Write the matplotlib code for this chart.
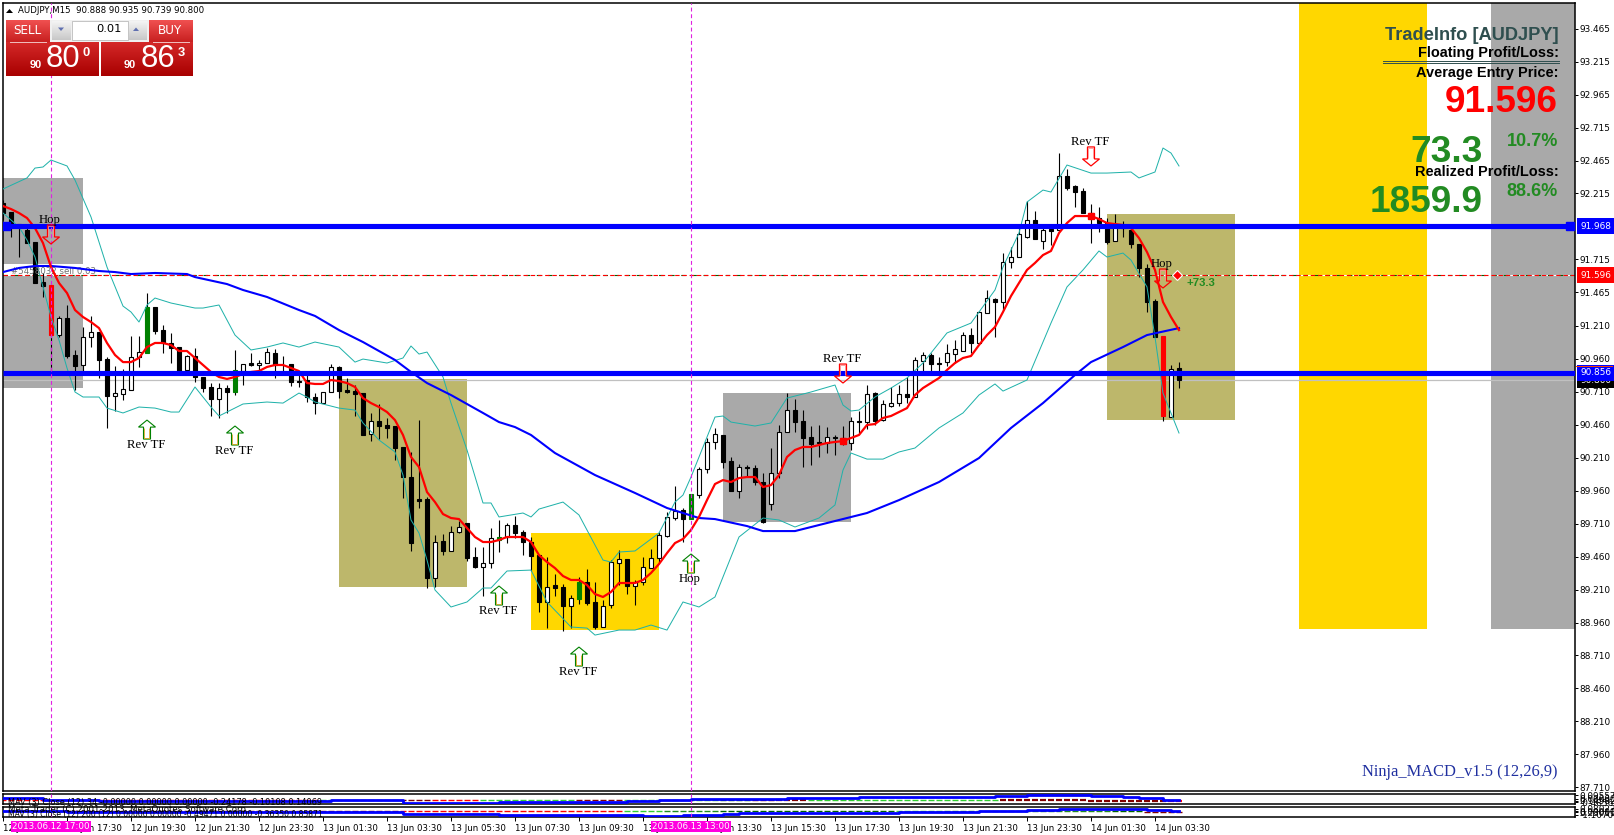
import numpy as np
import matplotlib.pyplot as plt
from matplotlib.patches import Rectangle, Polygon

W, H = 1614, 835

# AUDJPY M15 candles, one value per bar
opens = [92.143,92.075,91.983,91.938,91.847,91.544,91.521,91.141,91.270,90.990,90.914,91.126,91.164,90.959,90.679,90.694,90.724,90.974,91.005,91.354,
         91.179,91.081,91.050,90.876,90.982,90.823,90.747,90.656,90.739,90.709,90.868,90.929,90.914,90.929,91.005,90.861,90.921,90.792,90.800,90.671,
         90.625,90.709,90.899,90.724,90.716,90.701,90.390,90.489,90.459,90.451,90.292,90.064,89.897,89.897,89.298,89.578,89.503,89.647,89.715,89.457,
         89.381,89.411,89.586,89.609,89.700,89.647,89.571,89.472,89.116,89.245,89.229,89.085,89.138,89.267,89.116,88.926,89.093,89.411,89.442,89.237,
         89.267,89.373,89.449,89.616,89.753,89.814,89.745,89.927,90.125,90.330,90.383,90.185,89.958,90.140,90.132,90.026,89.859,90.094,90.405,90.572,
         90.489,90.367,90.330,90.322,90.367,90.360,90.322,90.489,90.481,90.701,90.496,90.603,90.625,90.694,90.671,90.944,90.990,90.929,90.936,90.997,
         91.020,91.141,91.081,91.308,91.414,91.392,91.695,91.733,91.885,92.014,91.855,91.945,91.938,92.348,92.272,92.234,92.067,92.029,91.991,91.855,
         91.968,91.938,91.832,91.650,91.399,91.134,90.519,90.888]
highs = [92.166,92.075,91.983,91.983,91.847,91.612,91.521,91.285,91.369,91.028,91.202,91.285,91.164,90.974,90.906,90.883,91.134,91.134,91.460,91.354,
         91.217,91.157,91.050,90.990,91.043,90.823,90.777,90.777,90.762,91.028,90.921,91.005,90.952,91.043,91.035,90.982,90.921,90.861,90.838,90.701,
         90.709,90.921,90.906,90.815,90.762,90.701,90.550,90.618,90.512,90.451,90.292,90.254,90.496,89.912,89.624,89.632,89.692,89.730,89.715,89.533,
         89.533,89.677,89.738,89.715,89.768,89.662,89.609,89.472,89.457,89.328,89.252,89.169,89.305,89.366,89.267,89.131,89.434,89.510,89.442,89.283,
         89.457,89.518,89.647,89.798,89.996,89.829,89.935,90.140,90.360,90.436,90.383,90.216,90.163,90.155,90.155,90.094,90.284,90.459,90.701,90.656,
         90.572,90.451,90.459,90.443,90.383,90.451,90.519,90.565,90.762,90.709,90.648,90.747,90.762,90.823,90.974,91.012,91.005,90.974,91.073,91.103,
         91.164,91.194,91.323,91.483,91.422,91.763,91.809,91.961,92.158,92.082,91.961,91.961,92.522,92.401,92.279,92.257,92.135,92.112,92.029,92.059,
         92.006,91.953,91.832,91.680,91.414,91.134,90.914,90.935]
lows = [92.014,91.885,91.733,91.839,91.536,91.430,90.853,91.126,90.967,90.724,90.853,91.050,90.815,90.436,90.565,90.648,90.724,90.899,91.005,91.149,
        91.005,90.929,90.861,90.861,90.785,90.709,90.527,90.512,90.550,90.686,90.762,90.906,90.876,90.929,90.815,90.838,90.755,90.747,90.633,90.542,
        90.625,90.709,90.663,90.701,90.527,90.383,90.337,90.352,90.360,90.193,89.905,89.503,89.829,89.222,89.229,89.472,89.503,89.639,89.427,89.373,
        89.161,89.373,89.495,89.563,89.601,89.472,89.351,89.040,88.918,89.161,88.896,88.918,89.101,89.093,88.911,88.926,89.070,89.245,89.176,89.093,
        89.245,89.373,89.411,89.609,89.738,89.571,89.745,89.905,90.094,90.276,90.132,89.958,89.905,90.064,90.003,89.715,89.814,90.056,90.405,90.405,
        90.140,90.155,90.216,90.246,90.231,90.307,90.269,90.398,90.428,90.459,90.489,90.595,90.603,90.625,90.671,90.853,90.838,90.853,90.906,90.929,
        91.020,91.005,91.081,91.308,91.126,91.331,91.650,91.733,91.877,91.870,91.794,91.824,91.938,92.241,92.112,92.067,91.839,91.923,91.832,91.855,
        91.885,91.801,91.581,91.316,91.126,90.489,90.519,90.739]
closes = [92.067,91.983,91.976,91.839,91.536,91.513,91.141,91.270,90.982,90.906,91.126,91.164,90.952,90.679,90.701,90.732,90.974,91.012,91.354,91.172,
          91.081,91.043,90.861,90.982,90.823,90.739,90.656,90.739,90.709,90.876,90.921,90.914,90.929,91.012,90.914,90.846,90.785,90.785,90.671,90.625,
          90.709,90.899,90.716,90.709,90.694,90.383,90.489,90.451,90.436,90.284,90.064,89.563,89.882,89.298,89.571,89.503,89.647,89.685,89.449,89.381,
          89.411,89.601,89.609,89.700,89.639,89.571,89.465,89.116,89.229,89.222,89.085,89.146,89.267,89.108,88.926,89.085,89.419,89.442,89.237,89.267,
          89.381,89.449,89.624,89.761,89.806,89.745,89.935,90.125,90.330,90.390,90.178,89.958,90.140,90.132,90.026,89.722,90.094,90.405,90.572,90.481,
          90.360,90.314,90.322,90.367,90.360,90.322,90.489,90.481,90.694,90.489,90.618,90.625,90.694,90.671,90.952,90.990,90.921,90.921,91.005,91.035,
          91.141,91.081,91.316,91.422,91.392,91.695,91.733,91.908,92.014,91.870,91.938,91.930,92.348,92.257,92.226,92.067,92.029,91.991,91.847,91.961,
          91.953,91.832,91.650,91.392,91.126,90.527,90.883,90.800]
green_bars = [18, 29, 62, 72, 86]
red_bars = [6, 145]

# moving average, red, one value per bar
ma_fast = [92.120,92.097,92.067,92.029,91.953,91.839,91.657,91.536,91.460,91.331,91.278,91.240,91.194,91.081,90.990,90.936,90.936,90.967,91.050,91.081,
           91.081,91.065,91.020,91.020,90.967,90.914,90.861,90.823,90.808,90.823,90.846,90.861,90.868,90.899,90.914,90.914,90.891,90.868,90.777,90.770,
           90.770,90.800,90.792,90.777,90.747,90.663,90.625,90.595,90.557,90.496,90.383,90.216,90.140,89.950,89.874,89.783,89.753,89.745,89.677,89.609,
           89.571,89.571,89.586,89.609,89.609,89.609,89.571,89.472,89.419,89.373,89.313,89.283,89.283,89.245,89.176,89.154,89.192,89.260,89.260,89.260,
           89.283,89.336,89.404,89.487,89.563,89.594,89.662,89.761,89.889,90.011,90.041,90.026,90.056,90.064,90.064,89.988,90.003,90.079,90.216,90.269,
           90.292,90.292,90.307,90.322,90.330,90.337,90.360,90.383,90.459,90.466,90.512,90.527,90.557,90.587,90.686,90.739,90.777,90.815,90.876,90.929,
           90.967,90.982,91.065,91.141,91.202,91.316,91.437,91.536,91.635,91.688,91.748,91.779,91.915,91.991,92.044,92.044,92.044,92.021,91.991,91.983,
           91.976,91.953,91.877,91.771,91.635,91.392,91.278,91.179]
ma_dots = [105, 136]

# slow moving average, blue, read at its bends
ma_slow_bars = [0,2,4,6,9,12,14,16,19,23,24,28,30,33,37,39,42,45,49,51,53,56,60,62,64,66,69,74,79,83,87,89,93,95,99,103,108,112,117,122,126,130,134,136,140,143,147]
ma_slow = [91.619,91.650,91.665,91.665,91.650,91.627,91.619,91.604,91.612,91.604,91.581,91.528,91.483,91.430,91.331,91.286,91.179,91.088,90.952,90.861,90.777,90.686,90.550,90.481,90.443,90.383,90.246,90.079,89.943,89.829,89.753,89.745,89.692,89.654,89.654,89.715,89.791,89.889,90.026,90.208,90.436,90.625,90.838,90.936,91.050,91.141,91.194]

# bollinger bands, read at their bends
bb_up_bars = [0,3,4,5,6,8,9,11,13,15,16,17,18,19,21,24,25,27,29,31,33,35,37,39,42,44,45,48,50,51,52,53,55,56,58,60,61,62,65,66,67,70,72,75,76,77,79,82,84,85,86,88,89,90,91,94,96,98,101,104,105,106,107,109,111,112,113,115,117,118,121,124,125,127,128,130,131,133,136,138,141,142,144,145,146,147]
bb_up = [92.249,92.333,92.408,92.416,92.469,92.424,92.317,92.037,91.657,91.361,91.316,91.240,91.369,91.422,91.384,91.346,91.346,91.369,91.141,91.028,91.050,91.081,91.050,91.088,91.050,90.936,90.959,90.929,90.967,91.058,90.997,91.012,90.823,90.625,90.269,89.867,89.867,89.761,89.791,89.761,89.821,89.874,89.776,89.434,89.419,89.495,89.503,89.639,89.874,89.927,90.064,90.367,90.519,90.527,90.481,90.451,90.474,90.663,90.709,90.762,90.610,90.565,90.572,90.671,90.739,90.777,90.815,90.929,91.081,91.157,91.232,91.483,91.657,91.915,92.150,92.241,92.226,92.431,92.370,92.370,92.378,92.333,92.378,92.560,92.522,92.424]
bb_dn_bars = [0,2,3,4,5,6,7,8,9,10,12,13,15,17,19,21,22,24,26,27,30,33,35,37,38,39,42,44,45,47,49,50,51,52,53,54,56,58,60,61,63,66,68,71,73,74,77,79,81,83,85,87,89,92,95,97,99,102,104,105,106,108,110,112,114,117,120,122,124,125,128,131,133,135,137,138,140,141,143,144,145,147]
bb_dn = [92.067,91.961,91.862,91.733,91.506,91.278,91.103,90.891,90.709,90.671,90.671,90.587,90.550,90.595,90.587,90.557,90.557,90.747,90.595,90.527,90.618,90.633,90.625,90.701,90.671,90.633,90.587,90.572,90.474,90.345,90.254,90.079,89.738,89.639,89.434,89.207,89.078,89.116,89.222,89.222,89.351,89.358,89.116,88.926,88.918,88.865,88.903,88.903,88.941,88.903,89.116,89.078,89.154,89.609,89.753,89.738,89.685,89.753,89.852,90.117,90.246,90.200,90.200,90.254,90.284,90.436,90.550,90.686,90.770,90.716,90.800,91.232,91.506,91.635,91.779,91.733,91.763,91.710,91.506,91.126,90.701,90.398]

# rectangles: first bar, last bar, top price, bottom price, colour
box_x0 = [-1, -1, 42, 66, 90, 138, 162, 186]
box_x1 = [10, 10, 58, 82, 106, 154, 178, 198]
box_top = [92.333, 91.596, 90.807, 89.639, 90.701, 92.059, 93.700, 93.700]
box_bot = [91.680, 90.739, 89.229, 88.903, 89.722, 90.496, 88.911, 88.911]
box_col = ['#A9A9A9', '#A9A9A9', '#BDB76B', '#FFD700', '#A9A9A9', '#BDB76B', '#FFD700', '#A9A9A9']

# levels
level_blue = [91.968, 90.856]
level_entry = 91.596
level_bid = 90.800
vlines_at = [6, 86]

# arrows
arrow_bars = [6, 18, 29, 62, 72, 86, 105, 136, 145]
arrow_tips = [91.832, 90.496, 90.451, 89.237, 88.774, 89.480, 90.777, 92.424, 91.498]
arrow_up = [False, True, True, True, True, True, False, False, False]
arrow_text = ['Hop', 'Rev TF', 'Rev TF', 'Rev TF', 'Rev TF', 'Hop', 'Rev TF', 'Rev TF', 'Hop']

# axis labels
ytick_vals = [93.465,93.215,92.965,92.715,92.465,92.215,91.715,91.465,91.210,90.960,90.710,90.460,90.210,89.960,89.710,89.460,89.210,88.960,88.710,88.460,88.210,87.960,87.710]
xtick_bars = list(range(0, 145, 8))
xtick_text = ['12 Jun 15:30','12 Jun 17:30','12 Jun 19:30','12 Jun 21:30','12 Jun 23:30','13 Jun 01:30','13 Jun 03:30','13 Jun 05:30','13 Jun 07:30','13 Jun 09:30',
              '13 Jun 11:30','13 Jun 13:30','13 Jun 15:30','13 Jun 17:30','13 Jun 19:30','13 Jun 21:30','13 Jun 23:30','14 Jun 01:30','14 Jun 03:30']

# MACD sub windows, step lines
macd1_bars = [0,5,12,41,50,62,78,82,86,98,107,124,128,136,140,142,145,147]
macd1 = [0.05,-0.14,-0.23,-0.14,-0.38,-0.29,-0.20,-0.14,0.02,0.11,0.16,0.23,0.35,0.25,0.16,0.05,-0.14,-0.14]
macd2_bars = [0,8,50,62,80,85,90,92,112,118,122,128,132,143,146,147]
macd2 = [0.05,-0.05,-0.18,-0.32,-0.38,-0.32,-0.23,-0.16,-0.07,0.02,0.07,0.14,0.29,0.14,0.07,0.07]
# histogram runs: first bar, last bar, value, colour
hist1_x0 = [0, 40, 50, 54, 60, 72, 78, 84, 90, 94, 97, 101, 125, 136, 146]
hist1_x1 = [39, 49, 53, 59, 71, 77, 83, 89, 93, 96, 100, 124, 135, 145, 147]
hist1_v = [-0.08,-0.08,-0.08,-0.08,-0.08,-0.08,-0.08,-0.08,-0.08,-0.08,-0.12,-0.08,-0.16,-0.22,-0.22]
hist1_c = ['#FF0000','#32CD32','#800000','#FF0000','#32CD32','#800000','#32CD32','#32CD32','#006400','#800000','#800000','#32CD32','#800000','#800000','#FF0000']
hist2_x0 = [0, 50, 78, 83, 90, 112, 118, 139, 143]
hist2_x1 = [49, 77, 82, 89, 111, 117, 138, 142, 147]
hist2_v = [0.05,0.05,0.05,0.05,0.05,0.05,0.05,0.05,-0.05]
hist2_c = ['#800000','#FF0000','#32CD32','#228B22','#006400','#32CD32','#228B22','#006400','#800000']

FONT = 'DejaVu Sans'
plt.rcParams['font.family'] = FONT
PX = 0.72

fig = plt.figure(figsize=(W / 100, H / 100), dpi=100)
fig.patch.set_facecolor('white')


def panel(top, bottom):
    a = fig.add_axes([2.5 / W, 1 - bottom / H, 1572 / W, (bottom - top) / H])
    a.set_xlim(-0.0625, 196.44)
    for s in a.spines.values():
        s.set_linewidth(1.1)
    a.yaxis.tick_right()
    a.tick_params(axis='y', length=2.2, width=0.72, pad=1.5, labelsize=6.4)
    a.set_xticks([])
    return a


ax = panel(2.5, 791)
sub1 = panel(793.5, 804)
sub2 = panel(806.5, 817)
ax.set_ylim(87.682, 93.664)

for x0, x1, t, b, c in zip(box_x0, box_x1, box_top, box_bot, box_col):
    ax.add_patch(Rectangle((x0, b), x1 - x0, t - b, facecolor=c, edgecolor='none', zorder=1))

# order line
ax.axhline(level_entry, color='white', lw=0.8, zorder=1.5)
ax.axhline(level_entry, color='#006400', lw=0.8, ls=(0, (4, 6)), zorder=1.6)
ax.axhline(level_entry, color='#FF0000', lw=0.8, ls=(0, (4, 2.5)), zorder=1.7)
ax.axhline(level_bid, color='#C0C0C0', lw=0.9, zorder=1.5)

# candles
o = np.array(opens)
c = np.array(closes)
idx = np.arange(len(o))
ax.vlines(idx, lows, highs, color='black', lw=0.8, zorder=2)
face = ['white' if c[i] > o[i] else 'black' for i in idx]
edge = ['black'] * len(o)
for i in green_bars:
    face[i] = edge[i] = '#008000'
for i in red_bars:
    face[i] = edge[i] = '#FF0000'
ax.bar(idx, np.abs(c - o), bottom=np.minimum(o, c), width=0.55, color=face, edgecolor=edge, linewidth=0.8, zorder=3)

# indicators
ax.plot(bb_up_bars, bb_up, color='#20B2AA', lw=0.72, zorder=4)
ax.plot(bb_dn_bars, bb_dn, color='#20B2AA', lw=0.72, zorder=4)
ax.plot(ma_slow_bars, ma_slow, color='#0000FF', lw=1.5, zorder=5)
ax.plot(idx, ma_fast, color='#FF0000', lw=1.6, zorder=6)
ax.plot(ma_dots, [ma_fast[i] for i in ma_dots], ls='none', marker='s', ms=3.8, color='#FF0000', zorder=6)

for v in level_blue:
    ax.axhline(v, color='#0000FF', lw=3.7, zorder=7, solid_capstyle='butt')
ax.plot([0.4, 195.9], [level_blue[0]] * 2, ls='none', marker='s', ms=5.4, color='#0000FF', zorder=7)

for b in vlines_at:
    for a in (ax, sub1, sub2):
        a.axvline(b, color='#E020E0', lw=0.8, ls=(0, (3.5, 2.5)), zorder=8)

ax.text(1, level_entry + 0.03, '#5458032 sell 0.03', color='#707070', fontsize=6.2, va='center', zorder=4.5)
ax.plot([146.8], [level_entry], ls='none', marker='D', ms=5, mfc='#FF0000', mec='white', mew=0.8, zorder=8)
ax.annotate('+73.3', xy=(147, level_entry), xytext=(8, -8), textcoords='offset pixels', color='#228B22',
            family='Liberation Sans', weight='bold', fontsize=8.2, va='center', zorder=8)

# signal arrows, sizes in screen pixels
dx, dy = 1 / 8, 1 / 131.8
for b, p, up, txt in zip(arrow_bars, arrow_tips, arrow_up, arrow_text):
    s = 1 if up else -1
    pts = [(0, 0), (8.5, -7 * s), (3.5, -7 * s), (3.5, -19 * s), (-3.5, -19 * s), (-3.5, -7 * s), (-8.5, -7 * s)]
    pts = [(b + x * dx, p + y * dy) for x, y in pts]
    inner = [(b + 2.5 * dx, p - 8 * s * dy), (b + 2.5 * dx, p - 18 * s * dy), (b - 2.5 * dx, p - 18 * s * dy), (b - 2.5 * dx, p - 8 * s * dy)]
    if up:
        ax.add_patch(Polygon(pts, closed=True, fill=False, edgecolor='#008000', lw=0.8, zorder=8.5))
        ax.add_patch(Polygon(inner, closed=False, fill=False, edgecolor='#DAA520', lw=0.6, zorder=8.5))
    else:
        ax.add_patch(Polygon(pts, closed=True, fill=False, edgecolor='#FF0000', lw=0.9, zorder=8.5))
        ax.add_patch(Polygon(inner, closed=False, fill=False, edgecolor='#FF9090', lw=0.6, zorder=8.5))
    off = -25 if up else 24
    ax.annotate(txt, xy=(b, p), xytext=(-1, off), textcoords='offset pixels', ha='center', va='center', color='black',
                family='Liberation Serif', fontsize=9.2, zorder=9)

# right axis
ax.set_yticks(ytick_vals)
ax.set_yticklabels(['%.3f' % v for v in ytick_vals])
for val, bg in [(level_bid, 'black'), (level_entry, '#FF0000'), (level_blue[0], '#0000FF'), (level_blue[1], '#0000FF')]:
    ax.annotate('%.3f' % val, xy=(1.0, val), xycoords=ax.get_yaxis_transform(), xytext=(4, 0), textcoords='offset points',
                color='white', fontsize=6.4, va='center', annotation_clip=False, zorder=20,
                bbox=dict(boxstyle='square,pad=0.38', facecolor=bg, edgecolor='none'))

# sub windows
for a, bars, vals, x0s, x1s, vs, cs in [(sub1, macd1_bars, macd1, hist1_x0, hist1_x1, hist1_v, hist1_c),
                                        (sub2, macd2_bars, macd2, hist2_x0, hist2_x1, hist2_v, hist2_c)]:
    a.set_ylim(-0.5, 0.5)
    for x0, x1, v, col in zip(x0s, x1s, vs, cs):
        xs = np.arange(x0, x1 + 1)
        a.hlines([v] * len(xs), xs - 0.38, xs + 0.38, color=col, lw=1.0 if v > -0.1 else 1.6, zorder=2)
    a.step(bars, vals, where='post', color='#0000FF', lw=2.0, zorder=3)

sub1.set_yticks([0.35, 0.0, -0.2, -0.35])
sub1.set_yticklabels(['0.09557', '0.00000', '0.14582', '-0.48562'])
sub2.set_yticks([0.3, 0.05, -0.05, -0.3])
sub2.set_yticklabels(['0.08023', '0.00000', '0.23011', '-1.10706'])
sub2.set_xticks(xtick_bars)
sub2.set_xticklabels(xtick_text, ha='left')
sub2.tick_params(axis='x', length=2.9, width=0.72, pad=2.0, labelsize=6.2, bottom=True)
sub1.set_xticks([])

# screen overlay for the trade panel and info block, pixel coordinates
ov = fig.add_axes([0, 0, 1, 1], facecolor='none', zorder=30)
ov.axis('off')


def grad(x0, x1, y0, y1, top, bottom):
    t = np.array(plt.matplotlib.colors.to_rgb(top))
    b = np.array(plt.matplotlib.colors.to_rgb(bottom))
    k = np.linspace(0, 1, 32)[:, None, None]
    ov.imshow(t[None, None, :] * (1 - k) + b[None, None, :] * k, extent=(x0, x1, y1, y0), aspect='auto', zorder=1)


ov.add_patch(Rectangle((50, 20), 99, 22, facecolor='#F0F0F0', edgecolor='none', zorder=1))
ov.add_patch(Rectangle((72, 21), 56, 19, facecolor='white', edgecolor='#B0B0B0', lw=0.5, zorder=2))
grad(52, 71, 21, 40, '#F4F4F4', '#C8C8C8')
grad(129, 147, 21, 40, '#F4F4F4', '#C8C8C8')
ov.add_patch(Polygon([(58, 27.5), (64, 27.5), (61, 31)], facecolor='#6070B0', edgecolor='none', zorder=3))
ov.add_patch(Polygon([(133, 31), (139, 31), (136, 27.5)], facecolor='#6070B0', edgecolor='none', zorder=3))
grad(6, 50, 20, 42, '#F05050', '#C82020')
grad(149, 193, 20, 42, '#F05050', '#C82020')
grad(6, 99, 42, 76, '#D42828', '#A80000')
grad(101, 193, 42, 76, '#D42828', '#A80000')
ov.plot([10, 46], [41.7, 41.7], color='#F0C0C0', lw=0.7, zorder=3)
ov.plot([153, 189], [41.7, 41.7], color='#F0C0C0', lw=0.7, zorder=3)
ov.plot([1576, 1612], [366.3, 366.3], color='#FF4000', lw=0.7, zorder=3)


def label(x, y, s, size, color='black', ha='left', weight='normal', family=FONT):
    ov.text(x, y, s, fontsize=size * PX, color=color, ha=ha, va='center', weight=weight, family=family, zorder=5)


label(27, 30.5, 'SELL', 12, 'white', 'center')
label(170, 30.5, 'BUY', 12, 'white', 'center')
label(122, 29.5, '0.01', 11.5, 'black', 'right')
label(36, 65, '90', 11, 'white', 'center', 'bold', 'Liberation Sans')
label(63, 59, '80', 31, 'white', 'center', family='Liberation Sans')
label(86, 53, '0', 13, 'white', 'center', 'bold', 'Liberation Sans')
label(130, 65, '90', 11, 'white', 'center', 'bold', 'Liberation Sans')
label(158, 59, '86', 31, 'white', 'center', family='Liberation Sans')
label(181, 53, '3', 13, 'white', 'center', 'bold', 'Liberation Sans')

ov.add_patch(Polygon([(6, 13), (13, 13), (9.5, 9)], facecolor='black', edgecolor='none', zorder=3))
label(18, 10.5, 'AUDJPY,M15  90.888 90.935 90.739 90.800', 8.7)

AR = 'Liberation Sans'
SLATE = '#2F4F4F'
FOREST = '#228B22'
label(1559, 35, 'TradeInfo [AUDJPY]', 18.3, SLATE, 'right', 'bold', AR)
label(1559, 52.5, 'Floating Profit/Loss:', 14.5, 'black', 'right', 'bold', AR)
ov.plot([1383, 1559], [61, 61], color=SLATE, lw=0.7, zorder=3)
ov.plot([1383, 1559], [63, 63], color=SLATE, lw=0.7, zorder=3)
label(1559, 73, 'Average Entry Price:', 14.5, 'black', 'right', 'bold', AR)
label(1558, 102, '91.596', 37, '#FF0000', 'right', 'bold', AR)
label(1558, 141, '10.7%', 18, FOREST, 'right', 'bold', AR)
label(1483, 152, '73.3', 37, FOREST, 'right', 'bold', AR)
label(1559, 172.5, 'Realized Profit/Loss:', 14.5, 'black', 'right', 'bold', AR)
label(1558, 191, '88.6%', 18, FOREST, 'right', 'bold', AR)
label(1483, 202, '1859.9', 37, FOREST, 'right', 'bold', AR)
label(1558, 772, 'Ninja_MACD_v1.5 (12,26,9)', 16.5, '#2030A0', 'right', family='Liberation Serif')

label(8, 802, 'MAV (3) Close (12) 34 -0.00000 0.00000 0.00000 -0.24178 -0.10108 0.14069', 8.1)
label(8, 809.5, 'Meta Trader (C) 2001-2013, MetaQuotes Software Corp.', 8.6)
label(8, 815, 'MAV (3) Close (12) 200 (12) 0.00000 0.00000 -0.49471 0.00000 -0.36350 0.85871', 7.7)

for x0, s in [(51, '2013.06.12 17:00'), (691, '2013.06.13 13:00')]:
    ov.add_patch(Rectangle((x0 - 40, 821), 80, 11, facecolor='#FF00E0', edgecolor='none', zorder=4))
    label(x0, 826.5, s, 8.8, 'white', 'center')

ov.set_xlim(0, W)
ov.set_ylim(H, 0)

fig.savefig('out.png', dpi=100)
